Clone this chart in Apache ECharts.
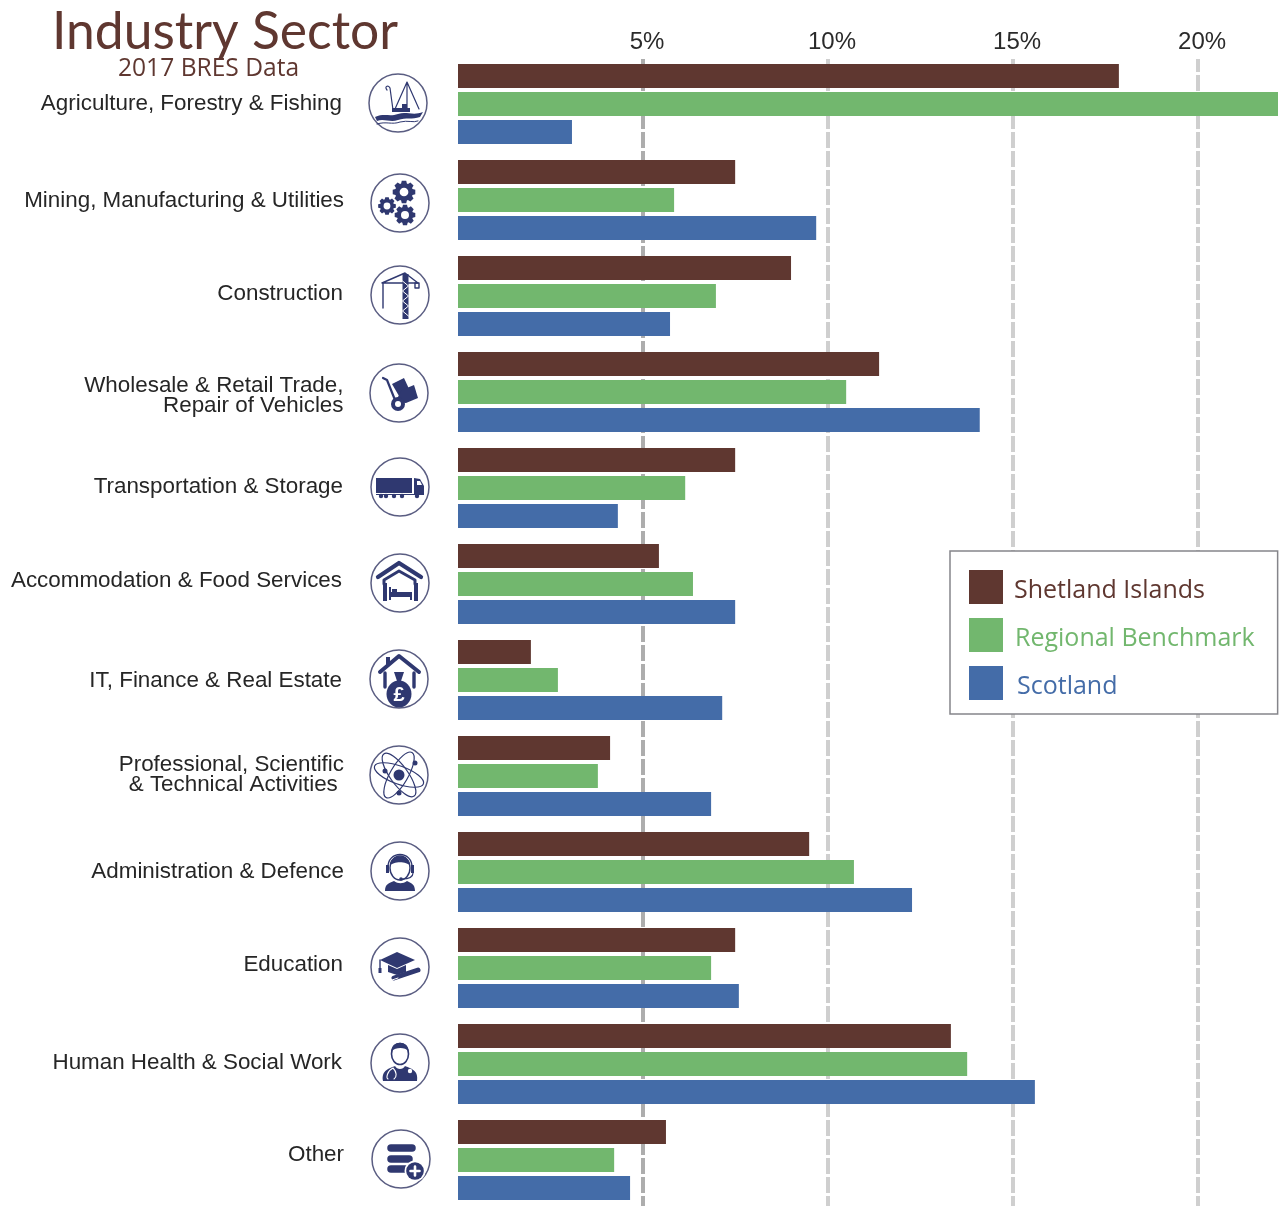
<!DOCTYPE html>
<html>
<head>
<meta charset="utf-8">
<title>Industry Sector</title>
<script src="https://cdn.jsdelivr.net/npm/echarts@6/dist/echarts.min.js"></script>
<style>html,body{margin:0;padding:0;background:#fff;overflow:hidden}#c{width:1279px;height:1212px}</style>
</head>
<body>
<div id="c"></div>
<script>
const categories = [
  'Agriculture, Forestry & Fishing',
  'Mining, Manufacturing & Utilities',
  'Construction',
  'Wholesale & Retail Trade,\nRepair of Vehicles',
  'Transportation & Storage',
  'Accommodation & Food Services',
  'IT, Finance & Real Estate',
  'Professional, Scientific\n& Technical Activities\u00a0',
  'Administration & Defence',
  'Education',
  'Human Health & Social Work',
  'Other'
];
const shetland = [17.86, 7.49, 9.0, 11.38, 7.49, 5.43, 1.97, 4.11, 9.49, 7.49, 13.32, 5.62];
const regional = [22.2, 5.84, 6.97, 10.49, 6.14, 6.35, 2.70, 3.78, 10.7, 6.84, 13.76, 4.22];
const scotland = [3.08, 9.68, 5.73, 14.1, 4.32, 7.49, 7.14, 6.84, 12.27, 7.59, 15.59, 4.65];
const seriesNames = ['Shetland Islands', 'Regional Benchmark', 'Scotland'];

const BROWN = '#5f3730', GREEN = '#72b76e', BLUE = '#446ca8', NAVY = '#2f3870', RING = '#5a5d82', WHITE = '#fff';

// Per-row placement of the row labels [right edge x, dy] and of the icon badges [x, dy]
const labelPlace = [[342,0],[344,1],[343,-2],[343.5,4],[343,-1],[342,-3],[342,1],[344,-1],[344,0],[343,-3],[342,-1],[344,-5]];
const badgePlace = [[398,-1],[400,3],[400,-1],[399,1],[400,-1],[400,-1],[399,-1],[399,-1],[400,-1],[400,-1],[400,-1],[401,-1]];

function F(d, fill) { return {type:'path', shape:{pathData:d}, style:{fill: fill || NAVY, stroke:null}}; }
function S(d, w, col) { return {type:'path', shape:{pathData:d}, style:{fill:'none', stroke: col || NAVY, lineWidth:w, lineCap:'round', lineJoin:'round'}}; }
function C(x, y, r, fill) { return {type:'circle', shape:{cx:x, cy:y, r:r}, style:{fill: fill || NAVY}}; }
function gear(cx, cy, r) {
  let d = '';
  const n = 8, ro = r, ri = r * 0.78;
  for (let i = 0; i < n; i++) {
    const a = i * 2 * Math.PI / n, w = Math.PI / n * 0.62;
    [[ri,-w*1.35],[ro,-w*0.8],[ro,w*0.8],[ri,w*1.35]].forEach((p, k) => {
      d += ((i === 0 && k === 0) ? 'M' : 'L') + (cx + p[0]*Math.cos(a+p[1])).toFixed(2) + ' ' + (cy + p[0]*Math.sin(a+p[1])).toFixed(2);
    });
  }
  return [F(d + 'Z'), C(cx, cy, r * 0.38, WHITE)];
}
function ell(rot) { return {type:'ellipse', shape:{cx:0, cy:0, rx:26, ry:9}, rotation:rot, style:{fill:'none', stroke:NAVY, lineWidth:1.2}}; }

const icons = [
  // boat
  [S('M9 -21L9 5M9 -21L-3 6M9 -21L21 6M-11 -13C-14 -16 -10 -19 -8 -15L-5 7',1.2),
   F('M-6 5L12 5L12 9L-6 9Z'), F('M4 1L9 1L9 5L4 5Z'),
   F('M-23 14C-14 10 -8 14 0 11C8 8 15 13 25 9L22 14C14 17 8 14 0 17C-8 20 -14 15 -21 18Z'),
   S('M-21 21C-12 18 -6 22 2 19C10 17 15 20 20 18',1)],
  // gears
  [...gear(4,-11,11.5), ...gear(-13,3,9), ...gear(5,12,10.5)],
  // crane
  [S('M-18 -12L18 -12M-18 -12L5 -22L18 -12M-17 -12L-17 13',1.4), S('M15 -12L19 -12L19 -7L15 -7Z',1.4),
   F('M2.5 -21L8.5 -21L8.5 24L2.5 24Z'), S('M2.5 -14L8.5 -9L2.5 -4L8.5 1L2.5 6L8.5 11L2.5 16L8.5 21',1,WHITE)],
  // trolley
  [S('M-16 -15L-12 -13L-4 7',2.2), F('M-7 -9L5 -15L11 -2L0 3Z'), F('M3 -3L15 -8L19 5L7 10L-4 9Z'),
   C(-1,11,7), C(-1,11,3,WHITE)],
  // truck
  [F('M-24 -9L12 -9L12 6L-24 6Z'), F('M14 -9L20 -8L24 -1L24 7L14 7Z'), F('M17 -6L20 -6L22 -2L17 -2Z', WHITE),
   F('M-24 7L24 7L24 8L-24 8Z'), C(-19,9,2.2), C(-14,9,2.2), C(2,9,2.2), C(-6,9,2.2), C(17,9,2.2)],
  // house with bed
  [S('M-22 -6L-1 -20L21 -6',4.2), S('M-16 1L-16 -3L-1 -12L15 -3L15 1',3),
   F('M-17 0L-13 0L-13 18L-17 18Z'), F('M14 0L18 0L18 18L14 18Z'),
   F('M-11 4L-9 4L-9 9L12 9L12 17L10 17L10 14L-9 14L-9 17L-11 17Z'), F('M-8 6L-3 6L-3 9L-8 9Z')],
  // house with money bag
  [S('M-19 -7L0 -23L20 -7',4), F('M-13 -22L-9 -22L-9 -14L-13 -11Z'), S('M-14 -6L-14 8M15 -6L15 8',3.4),
   {type:'ellipse', shape:{cx:0, cy:15, rx:12.5, ry:13.5}, style:{fill:NAVY}}, F('M-5 -7L5 -7L2 2L-2 2Z'),
   {type:'text', style:{x:0, y:16, text:'£', fill:WHITE, fontSize:20, fontWeight:'bold', fontFamily:'Liberation Sans', align:'center', verticalAlign:'middle'}}],
  // atom
  [ell(-Math.PI/9), ell(Math.PI/3), ell(2*Math.PI/3 + 0.1), C(0,0,5.5), C(16,-12,2.5), C(-14,-4,2.5), C(0,18,2.5)],
  // headset person
  [F('M-15 20C-15 13 -11 12 -6 10C-2 13 3 13 7 10C11 12 15 13 15 20Z'),
   {type:'ellipse', shape:{cx:0, cy:-3, rx:10, ry:12}, style:{fill:WHITE, stroke:NAVY, lineWidth:1.4}},
   F('M-10 -5C-11 -18 11 -18 10 -5C7 -10 -7 -10 -10 -5Z'),
   S('M-12 -3C-13 -21 13 -21 12 -3',1.4), F('M-14 -6L-11 -6L-11 2L-14 2Z'), F('M11 -6L14 -6L14 2L11 2Z'),
   S('M13 2C13 7 7 8 2 8',1.2), C(1,8,1.8)],
  // graduation cap
  [F('M-20 -7L-3 -15L15 -7L-3 1Z'), F('M-12 -2L-3 2L6 -2L6 5L-3 8L-12 5Z'), S('M-20 -7L-20 2',1.4), F('M-21.5 1L-18.5 1L-18.5 6L-21.5 6Z'),
   S('M-6 11L18 3',5), S('M-8 13L-2 11',1,WHITE)],
  // doctor
  [F('M-17 18C-19 7 -10 5 -5 3C-3 7 3 7 5 3C10 5 19 7 17 18Z'),
   {type:'ellipse', shape:{cx:0, cy:-9, rx:8.5, ry:10.5}, style:{fill:WHITE, stroke:NAVY, lineWidth:1.6}},
   F('M-8.5 -12C-9 -23 9 -23 8.5 -12C5 -16 -4 -16 -8.5 -12Z'),
   S('M-7 5C-13 8 -14 15 -12 16M-7 5C-3 9 -3 14 -6 16',1.1,WHITE), C(10,8,2.2,WHITE)],
  // other
  [S('M-10 -11L11 -11',7.5), S('M-10 0L8 0',7.5), S('M-10 10L4 10',7.5),
   C(14,12,10.5,WHITE), C(14,12,8.8), S('M14 7.5L14 16.5M9.5 12L18.5 12',2.6,WHITE)]
];

function bar(name, data, color) {
  return {name, type:'bar', data, barWidth:24, barGap:'16.67%', itemStyle:{color}, z:3, silent:true};
}
function legendRich(color, dx) {
  return {color, fontFamily:'Open Sans', fontSize:25, padding:[7,0,0,dx]};
}

const option = {
  animation:false,
  backgroundColor:'#fff',
  title:[
    {text:'Industry Sector', left:47, top:1, textStyle:{color:BROWN, fontFamily:'Lato', fontSize:51.6, fontWeight:'normal'}},
    {text:'2017 BRES Data', left:113, top:51, textStyle:{color:BROWN, fontFamily:'Open Sans', fontSize:24.6, fontWeight:'normal'}}
  ],
  legend:{
    orient:'vertical', left:950, top:551, padding:[19,23,14,19],
    itemWidth:34, itemHeight:34, itemGap:14, icon:'rect', selectedMode:false,
    backgroundColor:'#fff', borderColor:'#85858a', borderWidth:1.5, borderRadius:0, z:10,
    formatter:function(name){ return '{s' + seriesNames.indexOf(name) + '|' + name + '}'; },
    textStyle:{fontFamily:'Open Sans', fontSize:25, rich:{
      s0:legendRich(BROWN,6), s1:legendRich(GREEN,7), s2:legendRich(BLUE,9)
    }},
    data:seriesNames
  },
  grid:{left:458, top:56, width:820, height:1152, containLabel:false},
  graphic:[{type:'rect', z:1, silent:true, shape:{x:458, y:54, width:821, height:5}, style:{fill:'#fff'}}],
  xAxis:{
    type:'value', position:'top', min:0, max:22.16, interval:5,
    axisLine:{show:false}, axisTick:{show:false},
    axisLabel:{showMinLabel:false, showMaxLabel:false, formatter:'{value}%', margin:2, padding:[0,0,0,8],
      color:'#2a2a2a', fontFamily:'Liberation Sans', fontSize:24},
    splitLine:{show:true, showMinLine:false, showMaxLine:false,
      lineStyle:{color:['#adadad','#cfcfcf','#cfcfcf','#cfcfcf'], width:4, type:[16,3]}}
  },
  yAxis:{
    type:'category', inverse:true, data:categories,
    axisLine:{show:false}, axisTick:{show:false}, splitLine:{show:false}, axisLabel:{show:false}
  },
  series:[
    bar(seriesNames[0], shetland, BROWN),
    bar(seriesNames[1], regional, GREEN),
    bar(seriesNames[2], scotland, BLUE),
    {
      type:'custom', silent:true, z:4, clip:false, tooltip:{show:false},
      data:categories.map((c,i)=>[0,i]),
      encode:{x:0, y:1},
      renderItem:function(params, api){
        const i = api.value(1);
        const y = api.coord([0,i])[1];
        return {type:'group', silent:true, children:[
          {type:'text', x:labelPlace[i][0], y:y + labelPlace[i][1], style:{
            text:categories[i], fill:'#262626', font:'22.4px "Liberation Sans"', lineHeight:20,
            align:'right', verticalAlign:'middle'}},
          {type:'group', x:badgePlace[i][0], y:y + badgePlace[i][1], children:[
            {type:'circle', shape:{cx:0, cy:0, r:29}, style:{fill:'#fff', stroke:RING, lineWidth:1.5}},
            ...icons[i]
          ]}
        ]};
      }
    }
  ]
};
const chart = echarts.init(document.getElementById('c'), null, {renderer:'canvas'});
chart.setOption(option);
</script>
</body>
</html>
